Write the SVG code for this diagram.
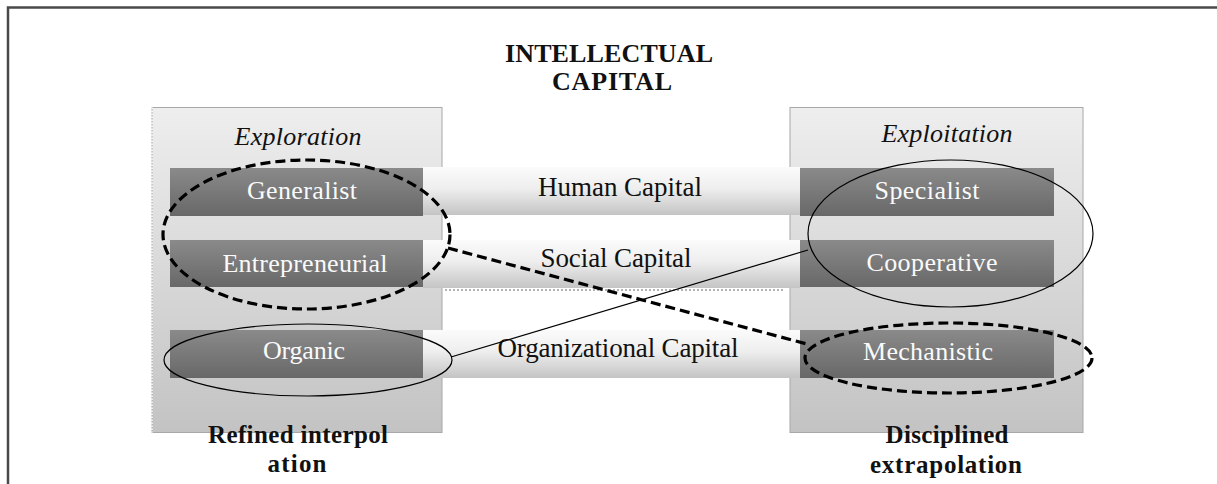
<svg xmlns="http://www.w3.org/2000/svg" width="1217" height="484" viewBox="0 0 1217 484">
  <defs>
    <linearGradient id="gPanel" x1="0" y1="0" x2="0" y2="1">
      <stop offset="0" stop-color="#eeeeee"/>
      <stop offset="1" stop-color="#c3c3c3"/>
    </linearGradient>
    <linearGradient id="gBand" x1="0" y1="0" x2="0" y2="1">
      <stop offset="0" stop-color="#fbfbfb"/>
      <stop offset="0.45" stop-color="#eeeeee"/>
      <stop offset="1" stop-color="#c4c4c4"/>
    </linearGradient>
    <linearGradient id="gBox" x1="0" y1="0" x2="0" y2="1">
      <stop offset="0" stop-color="#8a8a8a"/>
      <stop offset="1" stop-color="#686868"/>
    </linearGradient>
    <style>
      .frame { stroke: #4a4a4a; stroke-width: 2.5; fill: none; }
      .panel { fill: url(#gPanel); stroke: #a8a8a8; stroke-width: 1; }
      .band { fill: url(#gBand); }
      .box { fill: url(#gBox); }
      .title { font-family: "Liberation Serif", "Times New Roman", serif; font-weight: bold; font-size: 26px; fill: #111111; text-anchor: middle; }
      .ital { font-family: "Liberation Serif", "Times New Roman", serif; font-style: italic; font-size: 26px; fill: #111111; text-anchor: middle; }
      .boxtxt { font-family: "Liberation Serif", "Times New Roman", serif; font-size: 26px; fill: #fafafa; text-anchor: middle; }
      .bandtxt { font-family: "Liberation Serif", "Times New Roman", serif; font-size: 27px; fill: #111111; text-anchor: middle; }
      .foot { font-family: "Liberation Serif", "Times New Roman", serif; font-weight: bold; font-size: 25px; fill: #111111; text-anchor: middle; }
      .dashed { fill: none; stroke: #000000; stroke-width: 3.2; stroke-dasharray: 10 5; }
      .solid { fill: none; stroke: #000000; stroke-width: 1.2; }
      .dots { stroke: #9a9a9a; stroke-width: 1.5; stroke-dasharray: 2 2; }
    </style>
  </defs>

  <rect width="1217" height="484" fill="#ffffff"/>

  <g id="frame">
    <path class="frame" d="M8,484 L8,7.5 L1217,7.5"/>
  </g>

  <g id="title">
    <text class="title" x="609" y="62" textLength="208" lengthAdjust="spacing">INTELLECTUAL</text>
    <text class="title" x="612" y="90" textLength="120" lengthAdjust="spacing">CAPITAL</text>
  </g>

  <g id="panel-exploration">
    <rect class="panel" x="152" y="107.5" width="290" height="325"/>
    <line x1="152" y1="107.5" x2="152" y2="432.5" stroke="#ffffff" stroke-width="1.5" stroke-dasharray="1.5 1.5"/>
    <text class="ital" x="298" y="145" textLength="127" lengthAdjust="spacing">Exploration</text>
  </g>

  <g id="panel-exploitation">
    <rect class="panel" x="790" y="107.5" width="293" height="325"/>
    <text class="ital" x="947" y="142" textLength="131" lengthAdjust="spacing">Exploitation</text>
  </g>

  <g id="human-capital">
    <rect class="band" x="423" y="167" width="377" height="48"/>
    <text class="bandtxt" x="620" y="196" textLength="164" lengthAdjust="spacing">Human Capital</text>
  </g>
  <g id="social-capital">
    <rect class="band" x="423" y="240" width="377" height="48"/>
    <line class="dots" x1="445" y1="290" x2="783" y2="290"/>
    <text class="bandtxt" x="616" y="267" textLength="151" lengthAdjust="spacing">Social Capital</text>
  </g>
  <g id="organizational-capital">
    <rect class="band" x="423" y="330" width="377" height="48"/>
    <text class="bandtxt" x="618" y="357" textLength="241" lengthAdjust="spacing">Organizational Capital</text>
  </g>

  <g id="generalist">
    <rect class="box" x="170" y="168" width="253" height="48"/>
    <text class="boxtxt" x="302" y="199" textLength="110" lengthAdjust="spacing">Generalist</text>
  </g>
  <g id="entrepreneurial">
    <rect class="box" x="170" y="240" width="253" height="47"/>
    <text class="boxtxt" x="305" y="272" textLength="165" lengthAdjust="spacing">Entrepreneurial</text>
  </g>
  <g id="organic">
    <rect class="box" x="170" y="330" width="253" height="48"/>
    <text class="boxtxt" x="304" y="359" textLength="82" lengthAdjust="spacing">Organic</text>
  </g>

  <g id="specialist">
    <rect class="box" x="800" y="168" width="254" height="48"/>
    <text class="boxtxt" x="927" y="199" textLength="105" lengthAdjust="spacing">Specialist</text>
  </g>
  <g id="cooperative">
    <rect class="box" x="800" y="240" width="254" height="47"/>
    <text class="boxtxt" x="932" y="271" textLength="131" lengthAdjust="spacing">Cooperative</text>
  </g>
  <g id="mechanistic">
    <rect class="box" x="800" y="330" width="254" height="48"/>
    <text class="boxtxt" x="928" y="360" textLength="130" lengthAdjust="spacing">Mechanistic</text>
  </g>

  <g id="label-refined">
    <text class="foot" x="298" y="443" textLength="180" lengthAdjust="spacing">Refined interpol</text>
    <text class="foot" x="297" y="472" textLength="59" lengthAdjust="spacing">ation</text>
  </g>
  <g id="label-disciplined">
    <text class="foot" x="947" y="443" textLength="123" lengthAdjust="spacing">Disciplined</text>
    <text class="foot" x="946" y="473" textLength="152" lengthAdjust="spacing">extrapolation</text>
  </g>

  <g id="highlights">
    <ellipse class="dashed" cx="306.5" cy="234.5" rx="143.5" ry="74.5"/>
    <ellipse class="solid" cx="308" cy="360" rx="144" ry="36"/>
    <ellipse class="solid" cx="950.5" cy="233.5" rx="142.5" ry="73.5"/>
    <ellipse class="dashed" cx="948.5" cy="358" rx="143.5" ry="35"/>
  </g>

  <g id="connectors">
    <line class="dashed" x1="448" y1="248" x2="807" y2="344"/>
    <line class="solid" x1="451" y1="357" x2="808" y2="250"/>
  </g>
</svg>
